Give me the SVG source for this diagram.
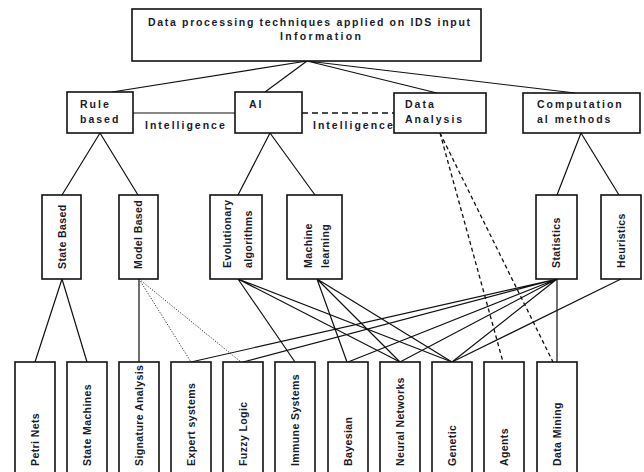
<svg xmlns="http://www.w3.org/2000/svg" width="644" height="472" viewBox="0 0 644 472">
<style>
.box{fill:#fff;stroke:#111;stroke-width:1.6}
.ln{stroke:#111;stroke-width:1.2;fill:none}
.dash{stroke:#111;stroke-width:1.3;fill:none;stroke-dasharray:4 3}
.hdash{stroke:#111;stroke-width:1.3;fill:none;stroke-dasharray:6 4}
.dot{stroke:#333;stroke-width:1;fill:none;stroke-dasharray:1.2 1.6}
text{font-family:"Liberation Sans",Arial,sans-serif;font-weight:bold;fill:#1a1a2a;font-size:10.5px}
.l2{letter-spacing:2px}
.v{letter-spacing:0.4px;dominant-baseline:central}
</style>
<rect width="644" height="472" fill="#fff"/>
<g id="connectors">
<path class="ln" d="M307 61L112 92M307 61L265 92M307 61L437 93M307 61L575 93"/>
<path class="ln" d="M133 113H235"/>
<path class="hdash" d="M302 113H394"/>
<path class="ln" d="M100 133L62 195M100 133L138 195M270 133L238 195M270 133L315 195M581 133L557 195M581 133L619 195"/>
<path class="dash" d="M440 133L503 362M440 133L553 362"/>
<path class="ln" d="M62 279L35 362M62 279L87 362M139 279V362"/>
<path class="dot" d="M139 279L191 362M139 279L241 362"/>
<path class="ln" d="M238 279L295 362M238 279L400 362M238 279L452 362"/>
<path class="ln" d="M317 279L347 362M317 279L400 362M317 279L452 362"/>
<path class="ln" d="M557 279L191 362M557 279L243 362M557 279L348 362M557 279L400 362M557 279L452 362M557 279V362"/>
<path class="ln" d="M621 279L452 362"/>
</g>
<g id="n-root"><rect class="box" x="132" y="9" width="349" height="52"/>
<text x="148" y="26" textLength="322" lengthAdjust="spacing">Data processing techniques applied on IDS input</text>
<text x="280" y="40" textLength="81" lengthAdjust="spacing">Information</text></g>
<g id="n-rule"><rect class="box" x="67" y="92" width="66" height="41"/><text class="l2" x="80" y="108">Rule</text><text class="l2" x="80" y="123">based</text></g>
<g id="n-ai"><rect class="box" x="235" y="92" width="67" height="41"/><text class="l2" x="249" y="108">AI</text></g>
<g id="n-da"><rect class="box" x="394" y="93" width="92" height="40"/><text class="l2" x="405" y="108">Data</text><text class="l2" x="405" y="123">Analysis</text></g>
<g id="n-cm"><rect class="box" x="523" y="93" width="117" height="40"/><text class="l2" x="537" y="108">Computation</text><text class="l2" x="537" y="123">al methods</text></g>
<g id="lbl-int1"><text class="l2" x="145" y="129">Intelligence</text></g>
<g id="lbl-int2"><text class="l2" x="313" y="129">Intelligence</text></g>
<g id="n-state"><rect class="box" x="42" y="195" width="39" height="84"/><text class="v" transform="translate(62 269) rotate(-90)">State Based</text></g>
<g id="n-model"><rect class="box" x="119" y="195" width="39" height="84"/><text class="v" transform="translate(138 269) rotate(-90)">Model Based</text></g>
<g id="n-evo"><rect class="box" x="210" y="195" width="52" height="84"/><text class="v" transform="translate(227 268) rotate(-90)">Evolutionary</text><text class="v" transform="translate(248 268) rotate(-90)">algorithms</text></g>
<g id="n-ml"><rect class="box" x="287" y="195" width="55" height="84"/><text class="v" transform="translate(308 268) rotate(-90)">Machine</text><text class="v" transform="translate(325 268) rotate(-90)">learning</text></g>
<g id="n-stat"><rect class="box" x="536" y="195" width="41" height="84"/><text class="v" transform="translate(556 268) rotate(-90)">Statistics</text></g>
<g id="n-heur"><rect class="box" x="601" y="195" width="40" height="84"/><text class="v" transform="translate(621 268) rotate(-90)">Heuristics</text></g>
<g id="n-petri"><rect class="box" x="15" y="362" width="40" height="120"/><text class="v" transform="translate(35 466) rotate(-90)">Petri Nets</text></g>
<g id="n-sm"><rect class="box" x="67" y="362" width="40" height="120"/><text class="v" transform="translate(87 466) rotate(-90)">State Machines</text></g>
<g id="n-sig"><rect class="box" x="119" y="362" width="40" height="120"/><text class="v" transform="translate(139 466) rotate(-90)">Signature Analysis</text></g>
<g id="n-exp"><rect class="box" x="171" y="362" width="40" height="120"/><text class="v" transform="translate(191 466) rotate(-90)">Expert systems</text></g>
<g id="n-fuzzy"><rect class="box" x="223" y="362" width="40" height="120"/><text class="v" transform="translate(243 466) rotate(-90)">Fuzzy Logic</text></g>
<g id="n-imm"><rect class="box" x="275" y="362" width="40" height="120"/><text class="v" transform="translate(295 466) rotate(-90)">Immune Systems</text></g>
<g id="n-bay"><rect class="box" x="328" y="362" width="40" height="120"/><text class="v" transform="translate(348 466) rotate(-90)">Bayesian</text></g>
<g id="n-nn"><rect class="box" x="380" y="362" width="40" height="120"/><text class="v" transform="translate(400 466) rotate(-90)">Neural Networks</text></g>
<g id="n-gen"><rect class="box" x="432" y="362" width="40" height="120"/><text class="v" transform="translate(452 466) rotate(-90)">Genetic</text></g>
<g id="n-agents"><rect class="box" x="484" y="362" width="40" height="120"/><text class="v" transform="translate(504 466) rotate(-90)">Agents</text></g>
<g id="n-dm"><rect class="box" x="537" y="362" width="40" height="120"/><text class="v" transform="translate(557 466) rotate(-90)">Data Mining</text></g>
</svg>
